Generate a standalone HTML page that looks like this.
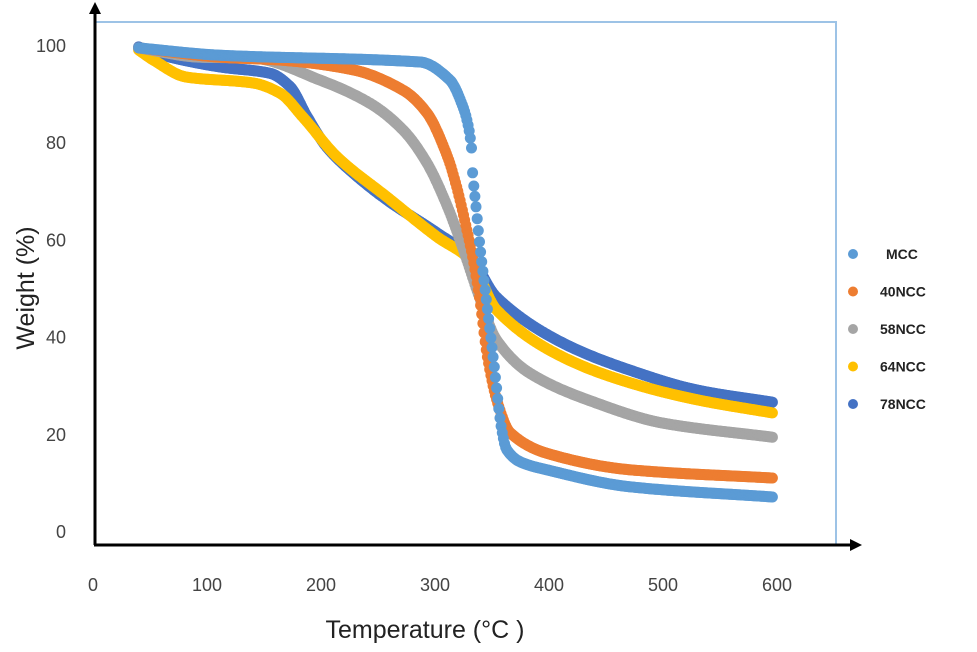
<!DOCTYPE html>
<html><head><meta charset="utf-8"><style>
body{margin:0;background:#fff;}
svg text{font-family:"Liberation Sans",sans-serif;}
</style></head><body>
<svg id="c" width="977" height="647" xmlns="http://www.w3.org/2000/svg"></svg>
<script>
const seriesNames=["MCC","40NCC","58NCC","64NCC","78NCC"];
const seriesColors=["#5b9bd5","#ed7d31","#a5a5a5","#ffc000","#4472c4"];
const mccT=[40,111,287,313,325,329,332,333,336,339,344,351,359,363,375,398,471,596];
const mccW=[99.4,97.9,96.5,92.8,87,83.5,78.8,73.7,66.7,59.5,49.6,35.8,20.2,16.7,14.2,12.6,9.1,7];
const n40T=[40,111,164,228,272,293,311,319,328,333,339,346,355,366,398,471,596];
const n40W=[99.4,97.5,96.9,94.9,90.7,86,77,70.8,61.9,56.4,48.1,35.8,26.3,20.2,16,12.6,10.9];
const n58T=[40,94,140,199,243,272,293,311,325,339,354,383,442,500,596];
const n58W=[99.4,97.5,97.3,92.8,88,82.5,75.7,66.7,57.8,48.1,39.3,32.5,26.3,22.2,19.3];
const n64T=[40,53,82,140,164,184,214,258,302,331,354,412,471,530,596];
const n64W=[99,96.9,93.4,92.2,90.1,85.2,77,68.7,60.5,55.8,45.5,35.8,30.5,27,24.3];
const n78T=[40,53,111,155,173,188,205,228,258,302,331,354,412,471,530,596];
const n78W=[99.6,98.4,95.5,94.2,91.4,85.2,79,73.7,68.1,61.3,56.4,48.1,38.7,33.1,29,26.5];
const xTicks=[0,100,200,300,400,500,600];
const yTicks=[0,20,40,60,80,100];

const svg=document.getElementById('c');
const NS="http://www.w3.org/2000/svg";
const xs=t=>93+t*1.14;
const ys=v=>531-v*4.86;
function mk(tag,attrs,parent){const e=document.createElementNS(NS,tag);for(const k in attrs)e.setAttribute(k,attrs[k]);(parent||svg).appendChild(e);return e;}

const frame=mk('path',{d:`M95 22 H836 V545`,fill:'none',stroke:'#9dc3e6','stroke-width':2});


const ya=mk('path',{d:'M95 545 V12',stroke:'#000','stroke-width':3,fill:'none'});


const yar=mk('path',{d:'M89 14 L95 2 L101 14 Z',fill:'#000'});


const xa=mk('path',{d:'M94 545 H852',stroke:'#000','stroke-width':3,fill:'none'});


const xar=mk('path',{d:'M850 539 L862 545 L850 551 Z',fill:'#000'});



xTicks.forEach(t=>{const e=mk('text',{x:xs(t),y:591,'text-anchor':'middle','font-size':18,fill:'#444'});e.textContent=t;

});
yTicks.forEach(v=>{const e=mk('text',{x:66,y:ys(v)+7,'text-anchor':'end','font-size':18,fill:'#444'});e.textContent=v;

});

const xt=mk('text',{x:425,y:638,'text-anchor':'middle','font-size':25,fill:'#222'});xt.textContent='Temperature (°C )';


const yt=mk('text',{x:0,y:0,'text-anchor':'middle','font-size':25,fill:'#222',transform:'translate(34,288) rotate(-90)'});yt.textContent='Weight (%)';



const allT=[mccT,n40T,n58T,n64T,n78T], allW=[mccW,n40W,n58W,n64W,n78W];
function tangents(T,W){const n=T.length,m=[];
  for(let i=0;i<n;i++){
    if(i==0)m.push((W[1]-W[0])/(T[1]-T[0]));
    else if(i==n-1)m.push((W[n-1]-W[n-2])/(T[n-1]-T[n-2]));
    else{const a=(W[i]-W[i-1])/(T[i]-T[i-1]),b=(W[i+1]-W[i])/(T[i+1]-T[i]);
      m.push(a*b<=0?0:2/(1/a+1/b));}
  }return m;}
function interp(T,W,M,t){for(let i=0;i<T.length-1;i++){if(t>=T[i]&&t<=T[i+1]){const h=T[i+1]-T[i],s=(t-T[i])/h;
  const h00=2*s*s*s-3*s*s+1,h10=s*s*s-2*s*s+s,h01=-2*s*s*s+3*s*s,h11=s*s*s-s*s;
  return h00*W[i]+h10*h*M[i]+h01*W[i+1]+h11*h*M[i+1];}}return W[W.length-1];}
const order=[4,3,2,1,0];
order.forEach(s=>{
  const g=mk('g',{fill:seriesColors[s]});
  
  
  const T=allT[s],W=allW[s],M=tangents(T,W);
  for(let t=T[0];t<=T[T.length-1];t+=1){
    mk('circle',{cx:xs(t).toFixed(1),cy:ys(interp(T,W,M,t)).toFixed(1),r:5.5},g);
  }
});

seriesNames.forEach((nm,i)=>{
  const y=254+i*37.5;
  const d=mk('circle',{cx:853,cy:y,r:5,fill:seriesColors[i]});
  
  
  const t=mk('text',{x:i==0?886:880,y:y+5,'font-size':14,'font-weight':'bold',fill:'#222'});t.textContent=nm;
  
  
});
</script>
</body></html>
